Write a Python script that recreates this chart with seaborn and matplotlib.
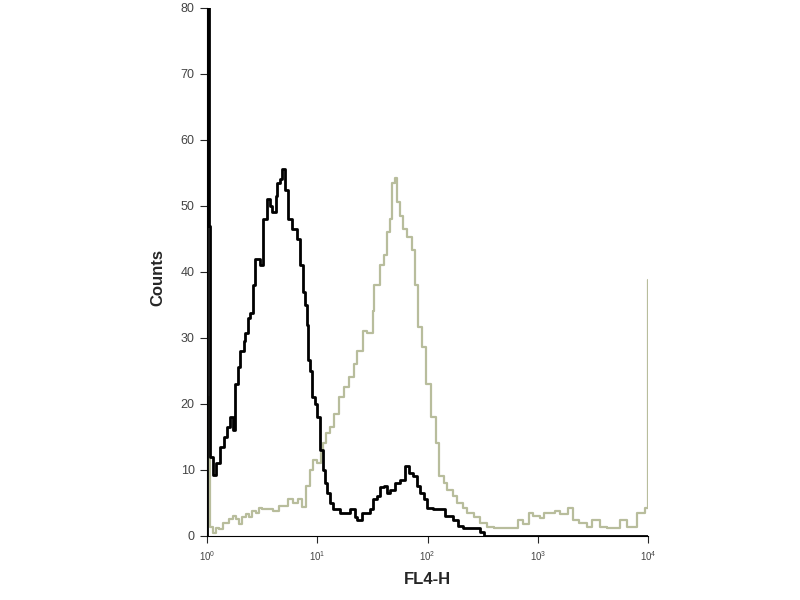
import numpy as np
import pandas as pd
import seaborn as sns
import matplotlib
matplotlib.use('Agg')
import matplotlib.pyplot as plt
import matplotlib.ticker as mticker

# channel positions in decades (log10 of FL4-H) and counts
black_log = [0.0, 0.0, 0.014, 0.027, 0.05, 0.08, 0.12, 0.15, 0.18, 0.21, 0.23, 0.25, 0.28, 0.30,
             0.33, 0.345, 0.37, 0.39, 0.42, 0.435, 0.46, 0.48, 0.51, 0.54, 0.57, 0.59, 0.62,
             0.635, 0.66, 0.68, 0.71, 0.735, 0.77, 0.815, 0.845, 0.87, 0.89, 0.905, 0.915,
             0.935, 0.95, 0.98, 1.0, 1.025, 1.05, 1.07, 1.09, 1.115, 1.14, 1.205, 1.25, 1.30,
             1.34, 1.36, 1.405, 1.45, 1.48, 1.505, 1.54, 1.57, 1.605, 1.63, 1.66, 1.705, 1.75,
             1.795, 1.83, 1.87, 1.905, 1.93, 1.965, 1.995, 2.05, 2.11, 2.16, 2.23, 2.275, 2.32,
             2.43, 2.475, 2.51, 4.0]
black_counts = [0, 120, 47, 12, 9.2, 11, 13.5, 15, 16.5, 18, 16, 23, 25.5, 28,
                29.5, 30.7, 33, 33.8, 38, 42, 42, 41, 48, 51, 50, 49, 51.5,
                53.5, 54, 55.5, 52.4, 48, 46.5, 45, 41, 37, 35, 32, 26.7,
                25, 21, 20, 18, 13, 10, 8, 6.5, 5, 4, 3.5, 3.5, 4.0,
                2.8, 2.4, 3.5, 3.5, 4, 5.5, 6, 7.4, 7.5, 6.5, 7, 8, 8.5,
                10.5, 9.5, 9, 7.5, 6.5, 5.5, 4.2, 4, 4, 3, 2.4, 1.5, 1.2,
                1.2, 0.6, 0, 0]

green_log = [0.0, 0.0, 0.014, 0.027, 0.05, 0.08, 0.11, 0.14, 0.17, 0.2, 0.23, 0.26, 0.29, 0.32,
             0.35, 0.38, 0.41, 0.44, 0.47, 0.50, 0.55, 0.60, 0.65, 0.70, 0.73, 0.78, 0.82,
             0.86, 0.90, 0.935, 0.96, 1.0, 1.03, 1.05, 1.08, 1.11, 1.15, 1.2, 1.24, 1.29,
             1.33, 1.36, 1.41, 1.45, 1.50, 1.51, 1.57, 1.60, 1.63, 1.66, 1.68, 1.7, 1.72,
             1.75, 1.78, 1.815, 1.86, 1.885, 1.91, 1.95, 1.99, 2.03, 2.08, 2.10, 2.145,
             2.18, 2.23, 2.27, 2.32, 2.36, 2.42, 2.48, 2.54, 2.60, 2.70, 2.79, 2.82, 2.87,
             2.92, 2.96, 3.02, 3.06, 3.11, 3.16, 3.2, 3.27, 3.32, 3.37, 3.45, 3.49, 3.56,
             3.63, 3.72, 3.75, 3.81, 3.90, 3.97, 4.0]
green_counts = [0, 21, 12, 1.4, 0.5, 1.2, 1.0, 2, 2.0, 2.5, 3.0, 2.5, 1.8, 2.8,
                3.3, 2.8, 3.8, 3.5, 4.2, 4.0, 4.0, 3.8, 4.5, 4.5, 5.5, 5.0, 5.5,
                4.4, 7.5, 10, 11.5, 11, 12.5, 14, 15.5, 16.5, 18.5, 21, 22.5, 24,
                26, 28, 31, 30.7, 34, 38, 41, 42.5, 46, 48, 53.5, 54.2, 50.5,
                48.4, 46.5, 45.3, 43.3, 38, 31.7, 28.6, 23, 18, 14, 9, 8,
                7, 6, 5, 4.2, 3.5, 2.8, 2, 1.4, 1.2, 1.2, 1.2, 2.4, 1.8,
                3.5, 3.0, 2.7, 3.5, 3.5, 3.8, 3.3, 4.2, 2.4, 2.0, 1.4, 2.4, 1.4,
                1.2, 1.2, 2.4, 1.4, 3.5, 4.2, 38.8]

y_ticks = [0, 10, 20, 30, 40, 50, 60, 70, 80]

sns.set_style('ticks')
plt.rcParams['font.family'] = ['Liberation Sans', 'DejaVu Sans']

df_black = pd.DataFrame({'FL4-H': 10 ** np.array(black_log), 'Counts': black_counts})
df_green = pd.DataFrame({'FL4-H': 10 ** np.array(green_log), 'Counts': green_counts})

fig = plt.figure(figsize=(8, 6), dpi=100)
ax = fig.add_axes([0.259, 0.107, 0.551, 0.88])

sns.lineplot(data=df_green, x='FL4-H', y='Counts', ax=ax, estimator=None, sort=False,
             color='#b8bd9c', linewidth=1.6, drawstyle='steps-post')
sns.lineplot(data=df_black, x='FL4-H', y='Counts', ax=ax, estimator=None, sort=False,
             color='black', linewidth=2.0, drawstyle='steps-post')

ax.set_xscale('log')
ax.set_xlim(1, 1e4)
ax.set_ylim(0, 80)
ax.set_yticks(y_ticks)
ax.xaxis.set_major_locator(mticker.LogLocator(base=10, numticks=10))
ax.xaxis.set_minor_locator(mticker.NullLocator())

ax.tick_params(axis='y', labelsize=9, labelcolor='#444444', length=5, width=0.8, pad=4)
ax.tick_params(axis='x', labelsize=7, labelcolor='#444444', length=5, width=0.8, pad=5)

sns.despine(ax=ax)
for s in ['left', 'bottom']:
    ax.spines[s].set_linewidth(0.8)
    ax.spines[s].set_color('black')

ax.set_xlabel('FL4-H', fontweight='bold', fontsize=12, labelpad=6)
ax.set_ylabel('Counts', fontweight='bold', fontsize=12)
ax.yaxis.set_label_coords(-0.095, 0.49)

fig.savefig('out.png', dpi=100)
